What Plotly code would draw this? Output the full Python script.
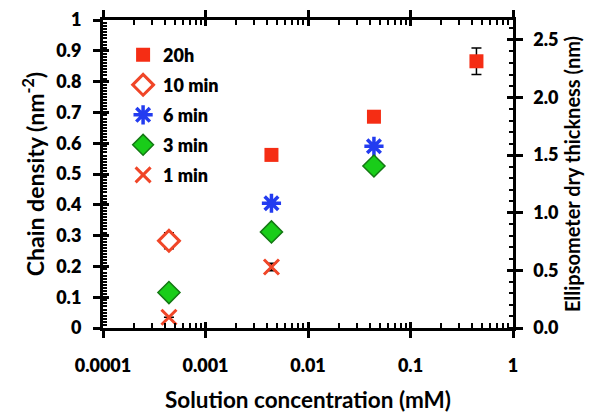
import plotly.graph_objects as go

# ---- data ----
conc_20h = [0.0044, 0.044, 0.44]
dens_20h = [0.562, 0.686, 0.866]
err_20h = [None, None, 0.043]

conc_10min = [0.00044]
dens_10min = [0.283]
err_10min = [0.026]

conc_6min = [0.0044, 0.044]
dens_6min = [0.405, 0.590]

conc_3min = [0.00044, 0.0044, 0.044]
dens_3min = [0.115, 0.312, 0.526]

conc_1min = [0.00044, 0.0044]
dens_1min = [0.035, 0.198]
err_1min = [None, 0.012]

x_tickvals = [0.0001, 0.001, 0.01, 0.1, 1]
x_ticktext = ["0.0001", "0.001", "0.01", "0.1", "1"]

RED = "rgb(245,45,20)"
RED2 = "rgb(240,70,40)"
BLUE = "rgb(35,60,240)"
GREEN = "rgb(25,205,25)"
DGREEN = "rgb(20,120,20)"
FONT = "Lato"

fig = go.Figure()

def err(arr):
    return dict(type="data", array=arr, visible=True, color="black",
                thickness=1.5, width=5)

fig.add_trace(go.Scatter(x=conc_20h, y=dens_20h, mode="markers", name="20h",
                         legendgroup="a",
                         marker=dict(symbol="square", size=14, color=RED),
                         error_y=err(err_20h)))
fig.add_trace(go.Scatter(x=conc_10min, y=dens_10min, mode="markers", name="10 min",
                         legendgroup="b",
                         marker=dict(symbol="diamond", size=16, color="white",
                                     line=dict(color=RED2, width=3)),
                         error_y=err(err_10min)))
fig.add_trace(go.Scatter(x=conc_6min, y=dens_6min, mode="markers", name="6 min",
                         legendgroup="c",
                         marker=dict(symbol="asterisk-open", size=16, color=BLUE,
                                     line=dict(color=BLUE, width=3.5))))
fig.add_trace(go.Scatter(x=conc_3min, y=dens_3min, mode="markers", name="3 min",
                         legendgroup="d",
                         marker=dict(symbol="diamond", size=17, color=GREEN,
                                     line=dict(color=DGREEN, width=1.5))))
fig.add_trace(go.Scatter(x=conc_1min, y=dens_1min, mode="markers", name="1 min",
                         legendgroup="e",
                         marker=dict(symbol="x-thin-open", size=15, color=RED2,
                                     line=dict(color=RED2, width=3)),
                         error_y=err(err_1min)))

# invisible copies so that the tick-only overlay axes get registered
for xa, ya in [("x2", "y"), ("x", "y2"), ("x", "y3"), ("x", "y4")]:
    fig.add_trace(go.Scatter(x=conc_3min, y=dens_3min, xaxis=xa, yaxis=ya,
                             mode="markers", marker=dict(opacity=0),
                             showlegend=False, hoverinfo="skip"))

tickfont = dict(family=FONT, size=18, color="black", weight=800)
minor_x = [m * 10 ** e for e in range(-4, 0) for m in range(2, 10)]
TW = 3
MW = 2
NB = "\u00a0\u00a0"

fig.update_layout(
    template="none",
    width=592, height=405,
    margin=dict(l=95, r=87, t=12, b=85),
    paper_bgcolor="white", plot_bgcolor="white",
    font=dict(family=FONT, color="black"),
    showlegend=True,
    legend=dict(x=0.049, y=0.946, xanchor="left", yanchor="top",
                bgcolor="rgba(0,0,0,0)", tracegroupgap=3.6, borderwidth=0,
                font=dict(family=FONT, size=18, color="black", weight=800),
                itemwidth=30),
    xaxis=dict(type="log", range=[-4, 0], tickvals=x_tickvals, ticktext=x_ticktext,
               ticks="outside", ticklen=7, tickwidth=TW, tickcolor="#000000",
               showline=True, linewidth=2.5, linecolor="black", mirror="ticks",
               showgrid=False, zeroline=False, tickfont=tickfont, automargin=False,
               ticklabelstandoff=13,
               title=dict(text="Solution concentration (mM)",
                          font=dict(family=FONT, size=22.5, color="black", weight="bold"),
                          standoff=22)),
    xaxis2=dict(type="log", range=[-4, 0], overlaying="x", anchor="y",
                tickvals=x_tickvals, ticks="inside", ticklen=6, tickwidth=TW,
                tickcolor="#000000", mirror="allticks", showticklabels=False,
                showline=False, showgrid=False, zeroline=False, automargin=False,
                minor=dict(tickvals=minor_x, ticks="inside", ticklen=5, tickwidth=MW,
                           tickcolor="#000000", showgrid=False)),
    yaxis=dict(range=[0, 1], dtick=0.1, tick0=0, ticks="outside", ticklen=7, tickwidth=TW,
               tickcolor="#000000", showline=True, linewidth=2.5, linecolor="black",
               showgrid=False, zeroline=False, tickfont=tickfont,
               tickformat="~g", ticksuffix=NB, automargin=False,
               title=dict(text="Chain density (nm<sup>-2</sup>)",
                          font=dict(family=FONT, size=23, color="black", weight="bold"),
                          standoff=6)),
    yaxis3=dict(range=[0, 1], overlaying="y", anchor="x", side="left",
                dtick=0.1, tick0=0, ticks="inside", ticklen=6, tickwidth=TW,
                tickcolor="#000000", showticklabels=False, showline=False,
                showgrid=False, zeroline=False, automargin=False,
                minor=dict(dtick=0.01, ticks="inside", ticklen=4, tickwidth=1.5,
                           tickcolor="#000000", showgrid=False)),
    yaxis2=dict(range=[0, 2.673], overlaying="y", anchor="x", side="right",
                dtick=0.5, tick0=0, ticks="outside", ticklen=7, tickwidth=TW,
                tickcolor="#000000", showline=True, linewidth=2.5, linecolor="black",
                showgrid=False, zeroline=False, tickformat=".1f", tickfont=tickfont,
                ticklabelstandoff=7, automargin=False,
                minor=dict(dtick=0.1, ticks="inside", ticklen=4, tickwidth=MW,
                           tickcolor="#000000", showgrid=False),
                title=dict(text="Ellipsometer dry thickness (nm)",
                           font=dict(family=FONT, size=20, color="black", weight="bold"),
                           standoff=8)),
    yaxis4=dict(range=[0, 2.673], overlaying="y", anchor="x", side="right",
                dtick=0.5, tick0=0, ticks="inside", ticklen=6, tickwidth=TW,
                tickcolor="#000000", showticklabels=False, showline=False,
                showgrid=False, zeroline=False, automargin=False),
)

fig.write_html("out.html")
